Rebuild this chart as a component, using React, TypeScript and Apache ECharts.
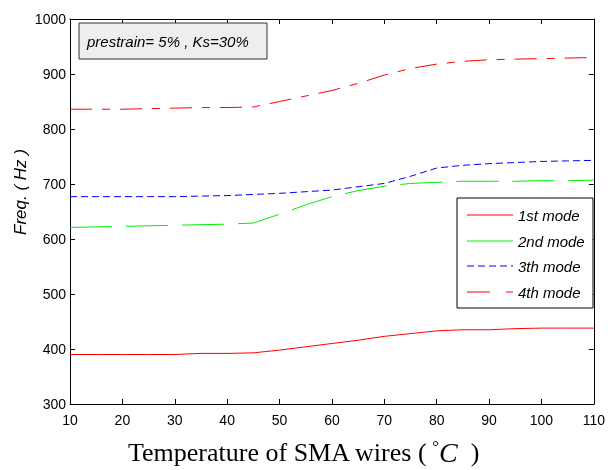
import React, { useEffect, useRef } from "react";
import * as echarts from "echarts";

const temps = [10, 15, 20, 25, 30, 35, 40, 45, 50, 55, 60, 65, 70, 75, 80, 85, 90, 95, 100, 105, 110];
const mode1 = [390, 390, 390, 390, 390, 392, 392, 393, 398, 404, 410, 416, 423, 428, 433, 435, 435, 437, 438, 438, 438];
const mode2 = [621, 622, 623, 624, 625, 626, 627, 629, 645, 662, 677, 688, 696, 701, 703, 705, 705, 705, 706, 706, 707];
const mode3 = [677, 677, 677, 677, 677, 678, 679, 681, 683, 686, 689, 695, 701, 714, 729, 734, 737, 739, 741, 742, 743];
const mode4 = [836, 836, 836, 837, 838, 839, 839, 840, 850, 860, 870, 883, 898, 910, 918, 923, 926, 927, 928, 929, 930];
const seriesNames = ["1st mode", "2nd mode", "3th mode", "4th mode"];
const annotation = "prestrain= 5% , Ks=30%";
const xTitle = "Temperature of SMA wires (";
const yTitle = "Freq. ( Hz )";

const SANS = "'Liberation Sans', Arial, sans-serif";
const SERIF = "'Liberation Serif', 'Times New Roman', serif";

export default function App() {
  const ref = useRef<HTMLDivElement>(null);
  useEffect(() => {
    if (!ref.current) return;
    const chart = echarts.init(ref.current, null, { renderer: "svg" });
    const pair = (arr: number[]) => temps.map((t, i) => [t, arr[i]]);
    const axisCommon = {
      type: "value" as const,
      axisLine: { show: true, lineStyle: { color: "#000", width: 1 } },
      axisTick: { show: true, inside: true, length: 5, lineStyle: { color: "#000" } },
      splitLine: { show: false },
    };
    const legendX1 = 467, legendX2 = 513, legendTextX = 518;
    const legendYs = [215, 241, 266, 292];
    chart.setOption({
      animation: false,
      grid: { left: 70, right: 12, top: 19, bottom: 66, containLabel: false },
      xAxis: [
        {
          ...axisCommon,
          min: 10, max: 110, interval: 10,
          position: "bottom",
          axisLabel: { color: "#000", fontFamily: SANS, fontSize: 14, margin: 9, formatter: (v: number) => String(v) },
        },
        {
          ...axisCommon,
          min: 10, max: 110, interval: 10,
          position: "top",
          axisLabel: { show: false },
        },
      ],
      yAxis: [
        {
          ...axisCommon,
          min: 300, max: 1000, interval: 100,
          position: "left",
          axisLabel: { color: "#000", fontFamily: SANS, fontSize: 14, margin: 4, formatter: (v: number) => String(v) },
        },
        {
          ...axisCommon,
          min: 300, max: 1000, interval: 100,
          position: "right",
          axisLabel: { show: false },
        },
      ],
      series: [
        {
          name: seriesNames[0], type: "line", data: pair(mode1), showSymbol: false, symbol: "none",
          lineStyle: { color: "#ff0000", width: 1, type: "solid" },
        },
        {
          name: seriesNames[1], type: "line", data: pair(mode2), showSymbol: false, symbol: "none",
          lineStyle: { color: "#00ee00", width: 1, type: [42, 14] },
        },
        {
          name: seriesNames[2], type: "line", data: pair(mode3), showSymbol: false, symbol: "none",
          lineStyle: { color: "#0000ff", width: 1, type: [7, 4] },
        },
        {
          name: seriesNames[3], type: "line", data: pair(mode4), showSymbol: false, symbol: "none",
          lineStyle: { color: "#ff0000", width: 1, type: [22, 10, 8, 10] },
        },
      ],
      graphic: [
        {
          type: "rect", shape: { x: 79, y: 23, width: 188, height: 36 },
          style: { fill: "#eeeeee", stroke: "#333", lineWidth: 1 }, z: 10,
        },
        {
          type: "text", x: 87, y: 41, z: 11,
          style: { text: annotation, fill: "#000", font: `italic 15px ${SANS}`, textVerticalAlign: "middle", textAlign: "left" },
        },
        {
          type: "rect", shape: { x: 457, y: 198, width: 136, height: 110 },
          style: { fill: "#fff", stroke: "#000", lineWidth: 1 }, z: 10,
        },
        {
          type: "line", z: 11, shape: { x1: legendX1, y1: legendYs[0], x2: legendX2, y2: legendYs[0] },
          style: { stroke: "#ff0000", lineWidth: 1 },
        },
        {
          type: "line", z: 11, shape: { x1: legendX1, y1: legendYs[1], x2: legendX2, y2: legendYs[1] },
          style: { stroke: "#00ee00", lineWidth: 1 },
        },
        {
          type: "line", z: 11, shape: { x1: legendX1, y1: legendYs[2], x2: legendX2, y2: legendYs[2] },
          style: { stroke: "#0000ff", lineWidth: 1, lineDash: [7, 4] },
        },
        {
          type: "line", z: 11, shape: { x1: legendX1, y1: legendYs[3], x2: legendX2, y2: legendYs[3] },
          style: { stroke: "#ff0000", lineWidth: 1, lineDash: [23, 16, 8, 4] },
        },
        ...seriesNames.map((n, i) => ({
          type: "text", x: legendTextX, y: legendYs[i], z: 11,
          style: { text: n, fill: "#000", font: `italic 15px ${SANS}`, textVerticalAlign: "middle", textAlign: "left" },
        })),
        {
          type: "text", x: 128, y: 452, z: 11,
          style: {
            text: `{a|${xTitle}}{d| °}{c|C}{a|  )}`,
            textVerticalAlign: "middle", textAlign: "left",
            rich: {
              a: { fontFamily: SERIF, fontSize: 26, fill: "#000", color: "#000" },
              d: { fontFamily: SERIF, fontSize: 17, fill: "#000", color: "#000", verticalAlign: "top" },
              c: { fontFamily: SERIF, fontSize: 28, fontStyle: "italic", fill: "#000", color: "#000" },
            },
          },
        },
        {
          type: "text", x: 20, y: 192, z: 11, rotation: Math.PI / 2,
          style: { text: yTitle, fill: "#000", font: `italic 17px ${SANS}`, textVerticalAlign: "middle", textAlign: "center" },
        },
      ],
    });
    return () => chart.dispose();
  }, []);
  return <div ref={ref} style={{ position: "fixed", left: 0, top: 0, width: 608, height: 470 }} />;
}
